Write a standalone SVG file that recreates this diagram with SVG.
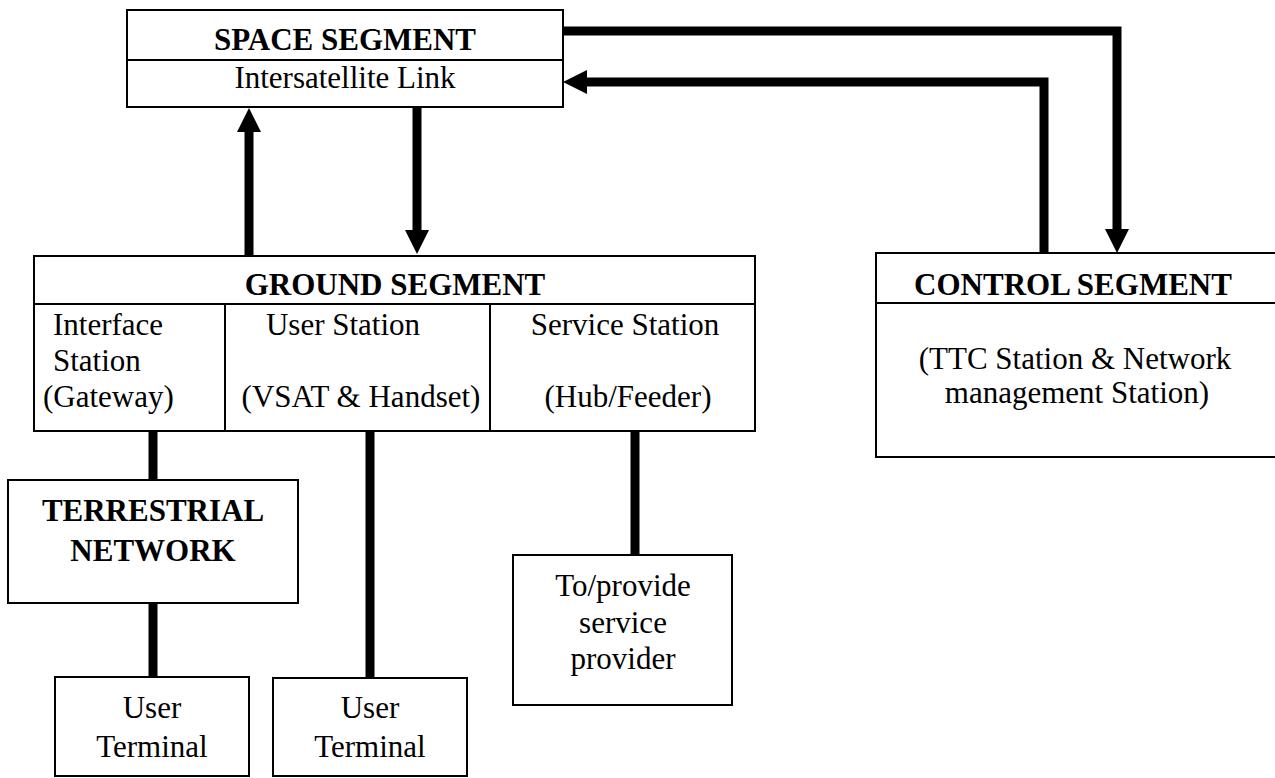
<svg xmlns="http://www.w3.org/2000/svg" width="1275" height="778" viewBox="0 0 1275 778">
  <style>
    .box { fill: #ffffff; stroke: #000000; stroke-width: 2; }
    .div { stroke: #000000; stroke-width: 2; fill: none; }
    .link { stroke: #000000; stroke-width: 9; fill: none; stroke-linejoin: miter; }
    text { font-family: "Liberation Serif", "Times New Roman", serif; font-size: 31px; fill: #000000; }
    .hd { font-weight: bold; }
    .c { text-anchor: middle; }
  </style>
  <defs>
    <marker id="head" viewBox="0 -12 24 24" refX="0" refY="0" markerWidth="24" markerHeight="24" markerUnits="userSpaceOnUse" orient="auto">
      <path d="M0,-12 L24,0 L0,12 z" fill="#000000"/>
    </marker>
  </defs>

  <rect width="1275" height="778" fill="#ffffff"/>

  <!-- connectors -->
  <g id="connectors">
    <path class="link" d="M249,255 V132" marker-end="url(#head)"/>
    <path class="link" d="M417,107 V230" marker-end="url(#head)"/>
    <path class="link" d="M563,31 H1117 V229" marker-end="url(#head)"/>
    <path class="link" d="M1044,253 V82 H587" marker-end="url(#head)"/>
    <path class="link" d="M153,431 V480"/>
    <path class="link" d="M153,603 V677"/>
    <path class="link" d="M370,431 V678"/>
    <path class="link" d="M635,431 V555"/>
  </g>

  <!-- space segment -->
  <g id="space-segment">
    <rect class="box" x="127" y="10" width="436" height="97"/>
    <line class="div" x1="127" y1="60" x2="563" y2="60"/>
    <text class="hd c" x="345" y="50">SPACE SEGMENT</text>
    <text class="c" x="345" y="88">Intersatellite Link</text>
  </g>

  <!-- ground segment -->
  <g id="ground-segment">
    <rect class="box" x="34" y="256" width="721" height="175"/>
    <line class="div" x1="34" y1="304" x2="755" y2="304"/>
    <line class="div" x1="225" y1="304" x2="225" y2="431"/>
    <line class="div" x1="490" y1="304" x2="490" y2="431"/>
    <text class="hd c" x="395" y="295">GROUND SEGMENT</text>
    <text x="53" y="335">Interface</text>
    <text x="53" y="371">Station</text>
    <text x="43" y="407">(Gateway)</text>
    <text class="c" x="343" y="335">User Station</text>
    <text class="c" x="361" y="407">(VSAT &amp; Handset)</text>
    <text class="c" x="625" y="335">Service Station</text>
    <text class="c" x="628" y="407">(Hub/Feeder)</text>
  </g>

  <!-- control segment -->
  <g id="control-segment">
    <rect class="box" x="876" y="253" width="410" height="204"/>
    <line class="div" x1="876" y1="303" x2="1275" y2="303"/>
    <text class="hd c" x="1073" y="295">CONTROL SEGMENT</text>
    <text class="c" x="1075" y="369">(TTC Station &amp; Network</text>
    <text class="c" x="1077" y="403">management Station)</text>
  </g>

  <!-- terrestrial network -->
  <g id="terrestrial-network">
    <rect class="box" x="8" y="480" width="290" height="123"/>
    <text class="hd c" x="153" y="521">TERRESTRIAL</text>
    <text class="hd c" x="153" y="561">NETWORK</text>
  </g>

  <!-- user terminal under terrestrial network -->
  <g id="user-terminal-1">
    <rect class="box" x="55" y="677" width="194" height="99"/>
    <text class="c" x="152" y="718">User</text>
    <text class="c" x="152" y="757">Terminal</text>
  </g>

  <!-- user terminal under user station -->
  <g id="user-terminal-2">
    <rect class="box" x="273" y="678" width="194" height="98"/>
    <text class="c" x="370" y="718">User</text>
    <text class="c" x="370" y="757">Terminal</text>
  </g>

  <!-- service provider -->
  <g id="service-provider">
    <rect class="box" x="513" y="555" width="219" height="150"/>
    <text class="c" x="623" y="596">To/provide</text>
    <text class="c" x="623" y="633">service</text>
    <text class="c" x="623" y="669">provider</text>
  </g>
</svg>
